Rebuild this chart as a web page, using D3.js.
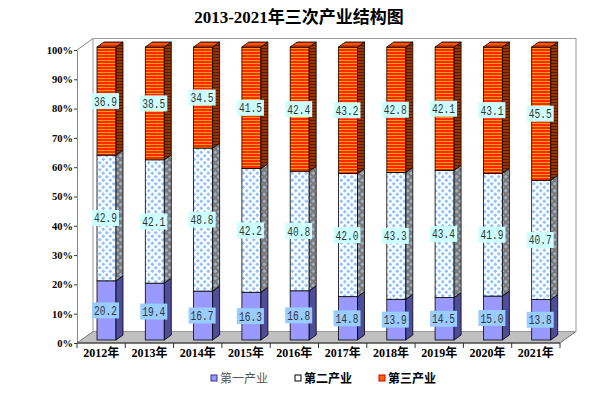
<!DOCTYPE html>
<html><head><meta charset="utf-8">
<script src="https://cdn.jsdelivr.net/npm/d3@7"></script>
<style>
html,body{margin:0;padding:0;background:#fff;}
svg{display:block;}
</style></head>
<body>
<script>
const years = ['2012年','2013年','2014年','2015年','2016年','2017年','2018年','2019年','2020年','2021年'];
const primary   = [20.2,19.4,16.7,16.3,16.8,14.8,13.9,14.5,15.0,13.8];
const secondary = [42.9,42.1,48.8,42.2,40.8,42.0,43.3,43.4,41.9,40.7];
const tertiary  = [36.9,38.5,34.5,41.5,42.4,43.2,42.8,42.1,43.1,45.5];
const yTicks = [0,10,20,30,40,50,60,70,80,90,100];
const seriesNames = ['第一产业','第二产业','第三产业'];
const title = '2013-2021年三次产业结构图';

const W = 600, H = 396;
const svg = d3.select('body').append('svg').attr('width', W).attr('height', H);
const defs = svg.append('defs');

function stripes(id, bg, line, period, lw){
  const p = defs.append('pattern').attr('id', id).attr('patternUnits','userSpaceOnUse')
    .attr('width', 4).attr('height', period);
  p.append('rect').attr('width',4).attr('height',period).attr('fill',bg);
  p.append('rect').attr('y',0).attr('width',4).attr('height',lw).attr('fill',line);
}
stripes('p3front', '#ff2a00', '#ffa000', 3, 1);
stripes('p3side', '#993300', '#5a1a00', 3, 1);
stripes('p3top', '#ff5500', '#cc3300', 3, 1);
function dots(id, bg, dot){
  const p = defs.append('pattern').attr('id', id).attr('patternUnits','userSpaceOnUse')
    .attr('width', 7).attr('height', 7);
  p.append('rect').attr('width',7).attr('height',7).attr('fill',bg);
  [[1.75,1.75],[5.25,5.25]].forEach(([cx,cy])=>{
    p.append('path').attr('d',`M${cx-2},${cy}L${cx},${cy-2}L${cx+2},${cy}L${cx},${cy+2}Z`).attr('fill',dot);
  });
}
dots('p2front', '#ffffff', '#8fc3ff');
dots('p2side', '#7a7a7a', '#9fb0c4');

const x = d3.scaleBand().domain(years).range([77, 560]).padding(0);
const y = d3.scaleLinear().domain([0,100]).range([343, 50]);
const depth = {dx:16, dy:-11.5};
const barOff = {dx:4, dy:-3};
const barW = 19, side = {dx:7, dy:-5};

svg.append('text').attr('x', 299).attr('y', 23).attr('text-anchor','middle')
  .attr('font-family','"Liberation Serif","Noto Sans CJK SC",serif').attr('font-weight','bold')
  .attr('font-size', 17).attr('fill','#000').text(title);

const x0 = x.range()[0], x1 = x.range()[1], y0 = y(0), yTop = y(100);
svg.append('path').attr('d', `M${x0},${y0}L${x1},${y0}L${x1+depth.dx},${y0+depth.dy}L${x0+depth.dx},${y0+depth.dy}Z`)
  .attr('fill','#c0c0c0').attr('stroke','#555').attr('stroke-width',0.8);
svg.append('rect').attr('x', x0+depth.dx).attr('y', yTop+depth.dy)
  .attr('width', x1-x0).attr('height', y0-yTop)
  .attr('fill','none').attr('stroke','#999').attr('stroke-width',1);
svg.append('line').attr('x1',x0).attr('y1',yTop).attr('x2',x0+depth.dx).attr('y2',yTop+depth.dy)
  .attr('stroke','#888');

const yAxis = svg.append('g').attr('transform',`translate(${x0},0)`)
  .call(d3.axisLeft(y).tickValues(yTicks).tickFormat(d=>d+'%').tickSizeInner(3).tickSizeOuter(0).tickPadding(1));
yAxis.select('.domain').attr('stroke','#888');
yAxis.selectAll('.tick line').attr('stroke','#333');
yAxis.selectAll('text').attr('font-family','"Liberation Serif",serif').attr('font-weight','bold')
  .attr('font-size',10.5).attr('fill','#000');

svg.append('line').attr('x1',x0).attr('x2',x1).attr('y1',y0).attr('y2',y0).attr('stroke','#333');
const bounds = years.map(d=>x(d)).concat([x1]);
svg.selectAll('.xt').data(bounds).enter().append('line')
  .attr('x1',d=>d).attr('x2',d=>d).attr('y1',y0).attr('y2',y0+5).attr('stroke','#333');
svg.selectAll('.xl').data(years).enter().append('text')
  .attr('x',d=>x(d)+x.bandwidth()/2).attr('y',y0+14).attr('text-anchor','middle')
  .attr('font-family','"Liberation Serif","Noto Sans CJK SC",serif').attr('font-weight','bold')
  .attr('font-size',12).attr('fill','#000').text(d=>d);

const series = [
  {vals: primary,   front:'#9999ff', side:'#4d4d99', top:'#7777dd', label:'#99ccff'},
  {vals: secondary, front:'url(#p2front)', side:'url(#p2side)', top:'#dde8f4', label:'#ccffff'},
  {vals: tertiary,  front:'url(#p3front)', side:'url(#p3side)', top:'url(#p3top)', label:'#ccffff'}
];
const by = v => y(v) + barOff.dy;
const gBars = svg.append('g');
const labels = [];
years.forEach((yr, i) => {
  const bx = x(yr) + 20;
  let cum = 0;
  series.forEach((s, si) => {
    const v = s.vals[i];
    const yb = by(cum), yt = by(cum + v);
    gBars.append('rect').attr('x',bx).attr('y',yt).attr('width',barW).attr('height',yb-yt)
      .attr('fill',s.front).attr('stroke','#000').attr('stroke-width',0.8);
    gBars.append('path').attr('d',`M${bx+barW},${yb}L${bx+barW+side.dx},${yb+side.dy}L${bx+barW+side.dx},${yt+side.dy}L${bx+barW},${yt}Z`)
      .attr('fill',s.side).attr('stroke','#000').attr('stroke-width',0.8);
    if (si === series.length-1) {
      gBars.append('path').attr('d',`M${bx},${yt}L${bx+barW},${yt}L${bx+barW+side.dx},${yt+side.dy}L${bx+side.dx},${yt+side.dy}Z`)
        .attr('fill',s.top).attr('stroke','#000').attr('stroke-width',0.8);
    }
    labels.push({cx: bx + barW/2 - 1, cy: by(cum + v/2), text: v.toFixed(1), fill: s.label});
    cum += v;
  });
});

const gL = svg.append('g');
labels.forEach(l => {
  gL.append('rect').attr('x', l.cx-13.5).attr('y', l.cy-8).attr('width',27).attr('height',16).attr('fill', l.fill);
  gL.append('text').attr('x', l.cx).attr('y', l.cy+4.5).attr('text-anchor','middle')
    .attr('font-family','"Liberation Mono",monospace').attr('font-size',13)
    .attr('textLength',23).attr('lengthAdjust','spacingAndGlyphs')
    .attr('fill','#333').text(l.text);
});

const legendX = [211, 295, 379];
const legendStyle = [
  {fill:'#9999ff', stroke:'#333399', color:'#555', weight:'normal'},
  {fill:'#ffffff', stroke:'#000', color:'#000', weight:'bold'},
  {fill:'#ff6600', stroke:'#cc0000', color:'#000', weight:'bold'}
];
seriesNames.forEach((n, i) => {
  const st = legendStyle[i];
  svg.append('rect').attr('x', legendX[i]).attr('y', 375).attr('width',6).attr('height',6)
    .attr('fill', st.fill).attr('stroke', st.stroke).attr('stroke-width',1);
  svg.append('text').attr('x', legendX[i]+9).attr('y', 382.5)
    .attr('font-family','"Noto Sans CJK SC",sans-serif').attr('font-weight', st.weight)
    .attr('font-size',12).attr('fill', st.color).text(n);
});
</script>
</body></html>
